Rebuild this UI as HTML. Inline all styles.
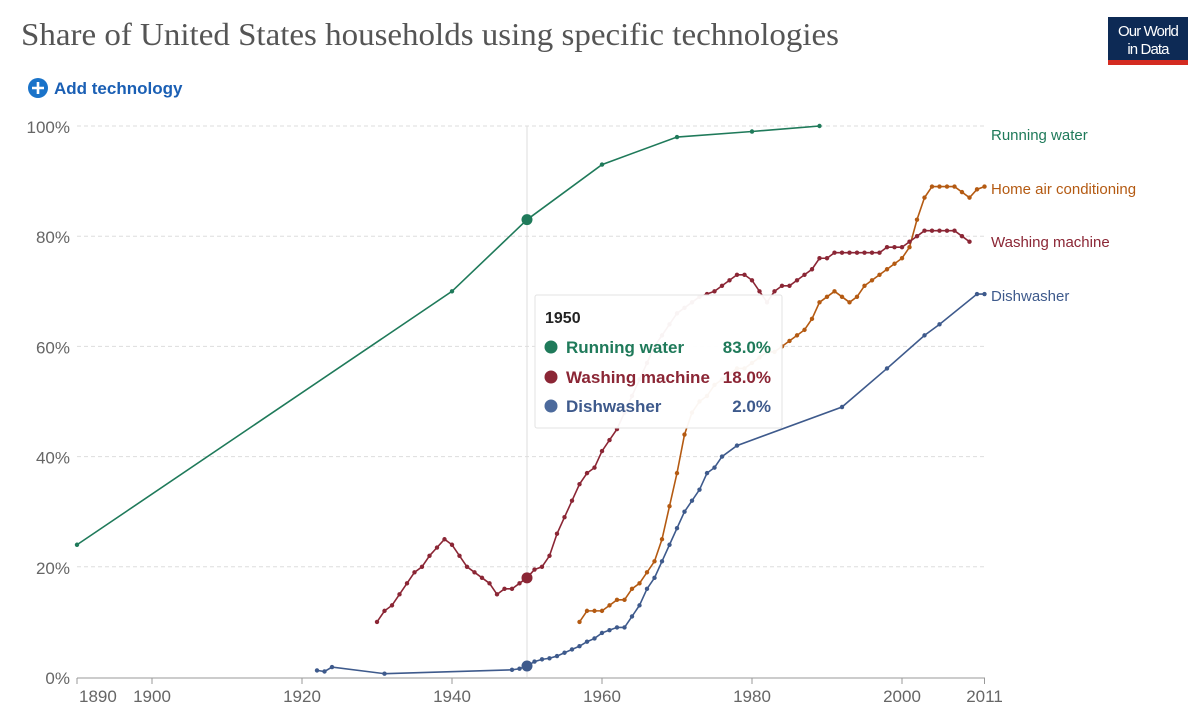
<!DOCTYPE html>
<html><head><meta charset="utf-8"><style>
body{margin:0;background:#fff;width:1200px;height:719px;overflow:hidden;font-family:"Liberation Sans",sans-serif}
</style></head><body>
<svg width="1200" height="719" xmlns="http://www.w3.org/2000/svg">
<text x="21" y="45" font-family="Liberation Serif,serif" font-size="31.5" fill="#555" textLength="818" lengthAdjust="spacingAndGlyphs">Share of United States households using specific technologies</text>
<g>
<rect x="1108" y="17" width="80" height="43" fill="#0d2a55"/>
<rect x="1108" y="60" width="80" height="5" fill="#d42b21"/>
<text x="1148" y="36" text-anchor="middle" fill="#fff" font-size="15" letter-spacing="-0.9">Our World</text>
<text x="1148" y="54" text-anchor="middle" fill="#fff" font-size="15" letter-spacing="-0.9">in Data</text>
</g>
<g>
<circle cx="38" cy="88" r="10" fill="#1a73c9"/>
<path d="M32 88h12M38 82v12" stroke="#fff" stroke-width="2.6"/>
<text x="54" y="94" font-size="17" font-weight="bold" fill="#1a5fb4">Add technology</text>
</g>
<g id="grid"></g><g id="axes"></g>
<line x1="527" y1="126" x2="527" y2="677" stroke="#ddd" stroke-width="1"/>
<g id="series"></g>
<g>
<rect x="535" y="295" width="247" height="133" rx="2" fill="#fff" fill-opacity="0.95" stroke="#e3e3e3"/>
<text x="545" y="323" font-size="16" font-weight="bold" fill="#222">1950</text>
<circle cx="551" cy="347" r="6.5" fill="#1f7a5a"/><text x="566" y="353" font-size="17" font-weight="bold" fill="#1f7a5a">Running water</text><text x="771" y="353" text-anchor="end" font-size="17" font-weight="bold" fill="#1f7a5a">83.0%</text>
<circle cx="551" cy="377" r="6.5" fill="#8b2635"/><text x="566" y="383" font-size="17" font-weight="bold" fill="#8b2635">Washing machine</text><text x="771" y="383" text-anchor="end" font-size="17" font-weight="bold" fill="#8b2635">18.0%</text>
<circle cx="551" cy="406" r="6.5" fill="#4c6a9c"/><text x="566" y="412" font-size="17" font-weight="bold" fill="#3e5a8c">Dishwasher</text><text x="771" y="412" text-anchor="end" font-size="17" font-weight="bold" fill="#3e5a8c">2.0%</text>
</g>
</svg>
<script>
const yTicks=[0,20,40,60,80,100];
const xTicks=[1890,1900,1920,1940,1960,1980,2000,2011];
const waterYears=[1890,1940,1950,1960,1970,1980,1989];
const waterVals=[24,70,83,93,98,99,100];
const washYears=[1930,1931,1932,1933,1934,1935,1936,1937,1938,1939,1940,1941,1942,1943,1944,1945,1946,1947,1948,1949,1950,1951,1952,1953,1954,1955,1956,1957,1958,1959,1960,1961,1962,1963,1964,1965,1966,1967,1968,1969,1970,1971,1972,1973,1974,1975,1976,1977,1978,1979,1980,1981,1982,1983,1984,1985,1986,1987,1988,1989,1990,1991,1992,1993,1994,1995,1996,1997,1998,1999,2000,2001,2002,2003,2004,2005,2006,2007,2008,2009];
const washVals=[10,12,13,15,17,19,20,22,23.5,25,24,22,20,19,18,17,15,16,16,17,18,19.5,20,22,26,29,32,35,37,38,41,43,45,48,51,54,57,60,62,64,66,67,68,69,69.5,70,71,72,73,73,72,70,68,70,71,71,72,73,74,76,76,77,77,77,77,77,77,77,78,78,78,79,80,81,81,81,81,81,80,79];
const acYears=[1957,1958,1959,1960,1961,1962,1963,1964,1965,1966,1967,1968,1969,1970,1971,1972,1973,1974,1975,1976,1977,1978,1979,1980,1981,1982,1983,1984,1985,1986,1987,1988,1989,1990,1991,1992,1993,1994,1995,1996,1997,1998,1999,2000,2001,2002,2003,2004,2005,2006,2007,2008,2009,2010,2011];
const acVals=[10,12,12,12,13,14,14,16,17,19,21,25,31,37,44,48,50,51,53,54,55,56,56,57,58,59,59,60,61,62,63,65,68,69,70,69,68,69,71,72,73,74,75,76,78,83,87,89,89,89,89,88,87,88.5,89];
const dishYears=[1922,1923,1924,1931,1948,1949,1950,1951,1952,1953,1954,1955,1956,1957,1958,1959,1960,1961,1962,1963,1964,1965,1966,1967,1968,1969,1970,1971,1972,1973,1974,1975,1976,1978,1992,1998,2003,2005,2010,2011];
const dishVals=[1.2,1,1.8,0.6,1.3,1.5,2,2.8,3.2,3.4,3.8,4.4,5,5.6,6.4,7,8,8.5,9,9,11,13,16,18,21,24,27,30,32,34,37,38,40,42,49,56,62,64,69.5,69.5];
const NS="http://www.w3.org/2000/svg";
const X=y=>77+(y-1890)*7.5, Y=v=>677-v*5.51;
function mk(p,t,a){const e=document.createElementNS(NS,t);for(const k in a)e.setAttribute(k,a[k]);document.getElementById(p).appendChild(e);return e;}
yTicks.forEach(t=>{
 if(t>0){const l=mk('grid','line',{x1:77,x2:985,y1:Y(t),y2:Y(t),stroke:'#ddd','stroke-dasharray':'4,3'});
 
 }
 const tx=mk('axes','text',{x:70,y:Y(t)+7,'text-anchor':'end','font-size':'17',fill:'#666'});tx.textContent=t+'%';
 
 
});
const ax=mk('axes','line',{x1:77,x2:985,y1:678,y2:678,stroke:'#999'});


xTicks.forEach(t=>{
 mk('axes','line',{x1:X(t),x2:X(t),y1:678,y2:684,stroke:'#999'});
 const anchor=t===1890?'start':'middle';
 const tx=mk('axes','text',{x:t===1890?X(t)+2:X(t),y:702,'text-anchor':anchor,'font-size':'17',fill:'#666'});tx.textContent=t;
 
 
});
function series(ys,vs,color,name,label,ly){
 const pts=ys.map((y,i)=>X(y)+','+Y(vs[i])).join(' ');
 const pl=mk('series','polyline',{points:pts,fill:'none',stroke:color,'stroke-width':1.6});
 
 
 ys.forEach((y,i)=>{const c=mk('series','circle',{cx:X(y),cy:Y(vs[i]),r:y===1950?5.5:2.2,fill:color});
  
  });
 const t=mk('series','text',{x:991,y:ly,'font-size':'15',fill:color});t.textContent=label;
 
 
}
series(waterYears,waterVals,'#1f7a5a','running-water','Running water',140);
series(acYears,acVals,'#b45a12','home-air-conditioning','Home air conditioning',194);
series(washYears,washVals,'#8b2635','washing-machine','Washing machine',247);
series(dishYears,dishVals,'#3e5a8c','dishwasher','Dishwasher',301);
</script>
</body></html>
